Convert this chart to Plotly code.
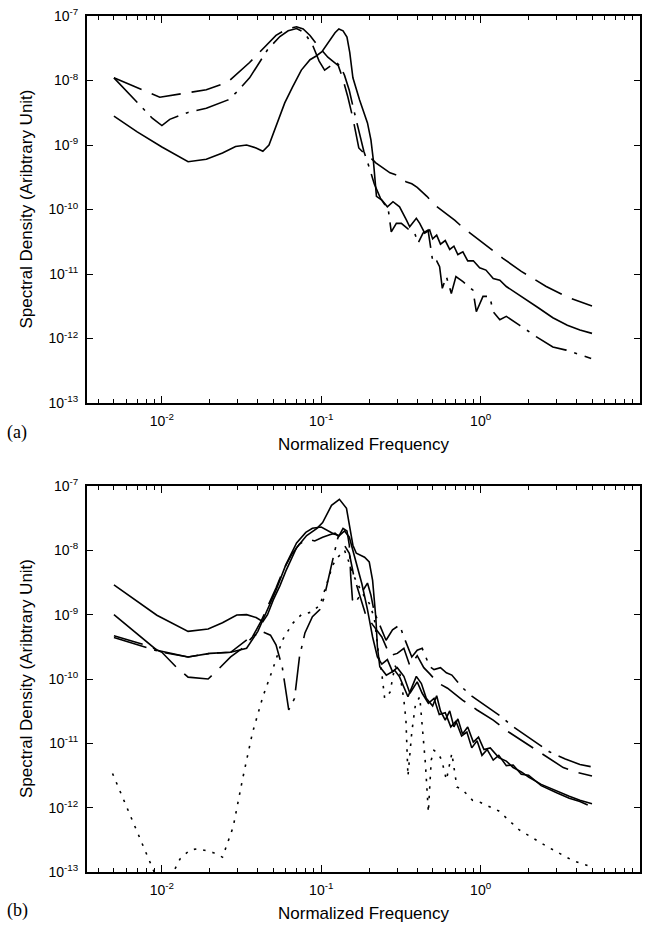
import plotly.graph_objects as go

# ---------------- data (normalized frequency, spectral density) ----------------
top_solid = [(0.005, 2.8e-9), (0.007, 1.6e-9), (0.01, 9.3e-10), (0.0146, 5.5e-10), (0.019, 6e-10),
             (0.024, 7.5e-10), (0.029, 9.5e-10), (0.034, 1.0e-9), (0.039, 9e-10), (0.043, 8e-10),
             (0.047, 1.0e-9), (0.053, 2.2e-9), (0.059, 4.5e-9), (0.066, 7.9e-9), (0.075, 1.45e-8),
             (0.085, 2.1e-8), (0.093, 2.4e-8), (0.101, 2.8e-8), (0.113, 4.2e-8), (0.122, 5.5e-8),
             (0.129, 6.3e-8), (0.137, 5.9e-8), (0.145, 4.7e-8), (0.151, 2.7e-8), (0.158, 1.1e-8),
             (0.174, 5e-9), (0.195, 2.2e-9), (0.205, 1.2e-9), (0.212, 6e-10), (0.217, 3e-10),
             (0.222, 1.6e-10), (0.24, 1.4e-10), (0.26, 1.1e-10), (0.282, 1.32e-10), (0.31, 1.1e-10),
             (0.342, 6.9e-11), (0.359, 5.4e-11), (0.395, 7.3e-11), (0.415, 6.1e-11), (0.446, 4.3e-11),
             (0.479, 4.8e-11), (0.5, 3.5e-11), (0.53, 4e-11), (0.56, 2.9e-11), (0.6, 3.3e-11),
             (0.64, 2.4e-11), (0.68, 2.7e-11), (0.72, 2e-11), (0.774, 2.2e-11), (0.83, 1.6e-11),
             (0.9, 1.6e-11), (0.986, 1.25e-11), (1.08, 1.15e-11), (1.2, 8.5e-12), (1.32, 8e-12),
             (1.45, 6.4e-12), (1.65, 5.2e-12), (1.93, 4e-12), (2.3, 3e-12), (2.84, 2.1e-12),
             (3.5, 1.6e-12), (4.2, 1.35e-12), (5.0, 1.2e-12)]

top_dashed = [(0.005, 1.1e-8), (0.0097, 5.5e-9), (0.019, 7.2e-9), (0.026, 9.5e-9), (0.0355, 1.9e-8),
              (0.0455, 3.6e-8), (0.052, 5e-8), (0.06, 6.2e-8), (0.07, 6.8e-8), (0.077, 6.3e-8),
              (0.085, 5e-8), (0.094, 3.6e-8), (0.105, 2.6e-8), (0.11, 2.3e-8), (0.118, 2.0e-8),
              (0.128, 1.7e-8), (0.136, 1.1e-8), (0.147, 5.5e-9), (0.158, 2.6e-9), (0.165, 1.5e-9),
              (0.172, 9e-10), (0.185, 7.5e-10), (0.2, 6.6e-10), (0.22, 5.3e-10), (0.24, 4.6e-10),
              (0.27, 3.7e-10), (0.29, 3.5e-10), (0.31, 3.2e-10), (0.34, 2.7e-10), (0.37, 2.5e-10),
              (0.4, 2.2e-10), (0.46, 1.6e-10), (0.51, 1.2e-10), (0.6, 9e-11), (0.69, 6.8e-11),
              (0.77, 5.3e-11), (0.89, 4e-11), (1.13, 2.6e-11), (1.38, 1.75e-11), (1.8, 1.1e-11),
              (2.58, 6.4e-12), (3.5, 4.4e-12), (4.6, 3.4e-12), (5.0, 3.2e-12)]

top_dashdot = [(0.005, 1.1e-8), (0.0087, 2.6e-9), (0.01, 2.0e-9), (0.0112, 2.5e-9), (0.0146, 3.2e-9),
               (0.019, 3.7e-9), (0.026, 5e-9), (0.0295, 6.6e-9), (0.0355, 1.1e-8), (0.046, 3e-8),
               (0.055, 4.8e-8), (0.062, 5.9e-8), (0.07, 6.4e-8), (0.078, 5.6e-8), (0.088, 3.6e-8),
               (0.097, 2e-8), (0.105, 1.45e-8), (0.115, 1.7e-8), (0.125, 1.9e-8), (0.133, 1.6e-8),
               (0.14, 1.2e-8), (0.15, 7e-9), (0.16, 3.5e-9), (0.172, 1.6e-9), (0.185, 8e-10),
               (0.2, 4.5e-10), (0.215, 2.5e-10), (0.235, 1.5e-10), (0.25, 1.2e-10), (0.262, 1.1e-10),
               (0.275, 4.5e-11), (0.296, 6.1e-11), (0.318, 6.1e-11), (0.35, 5e-11), (0.386, 4.3e-11),
               (0.405, 3e-11), (0.435, 4.3e-11), (0.468, 4.8e-11), (0.485, 2.6e-11), (0.502, 1.5e-11),
               (0.53, 1.6e-11), (0.553, 1.3e-11), (0.575, 6e-12), (0.61, 9.1e-12), (0.655, 5e-12),
               (0.7, 9.1e-12), (0.775, 7.6e-12), (0.84, 6.5e-12), (0.895, 5.6e-12), (0.94, 2.6e-12),
               (1.035, 4.5e-12), (1.14, 4.5e-12), (1.2, 2.6e-12), (1.32, 1.95e-12), (1.45, 2.2e-12),
               (1.76, 1.6e-12), (2.23, 1.07e-12), (2.84, 7.4e-13), (3.44, 6.6e-13), (4.94, 4.9e-13)]

bot_solid1 = [(0.005, 2.9e-9), (0.007, 1.6e-9), (0.0093, 9.8e-10), (0.0146, 5.5e-10), (0.0195, 6e-10),
              (0.024, 7.5e-10), (0.0295, 9.9e-10), (0.034, 1.0e-9), (0.039, 9e-10), (0.043, 7.8e-10),
              (0.046, 1.0e-9), (0.05, 1.7e-9), (0.055, 2.8e-9), (0.06, 4.8e-9), (0.07, 1.1e-8),
              (0.081, 1.7e-8), (0.094, 2.2e-8), (0.102, 2.7e-8), (0.116, 5e-8), (0.13, 6.2e-8),
              (0.144, 4.5e-8), (0.15, 2.5e-8), (0.158, 1.2e-8), (0.166, 9e-9), (0.187, 7.8e-9),
              (0.2, 6.6e-9), (0.21, 3.4e-9), (0.22, 9e-10), (0.225, 3.2e-10), (0.233, 1.55e-10),
              (0.256, 1.15e-10), (0.289, 1.37e-10), (0.31, 1.08e-10), (0.35, 5.3e-11), (0.395, 1.1e-10),
              (0.425, 8.5e-11), (0.456, 5e-11), (0.5, 3.8e-11), (0.53, 5.5e-11), (0.56, 3.2e-11),
              (0.6, 2.3e-11), (0.64, 3.2e-11), (0.68, 1.8e-11), (0.72, 2.4e-11), (0.77, 1.4e-11),
              (0.83, 1.8e-11), (0.9, 1.05e-11), (0.97, 1.25e-11), (1.05, 8e-12), (1.15, 8.5e-12),
              (1.3, 6e-12), (1.45, 5.3e-12), (1.6, 4.2e-12), (1.8, 3.6e-12), (2.0, 3.0e-12),
              (2.4, 2.3e-12), (3.0, 1.8e-12), (3.6, 1.5e-12), (4.2, 1.3e-12), (5.0, 1.15e-12)]

bot_solid2 = [(0.005, 1.0e-9), (0.0093, 2.8e-10), (0.0146, 2.2e-10), (0.02, 2.5e-10), (0.027, 2.6e-10),
              (0.034, 3e-10), (0.04, 5.5e-10), (0.045, 1.05e-9), (0.052, 2.4e-9), (0.06, 6e-9),
              (0.07, 1.3e-8), (0.08, 1.9e-8), (0.088, 2.2e-8), (0.1, 2.3e-8), (0.11, 2.0e-8),
              (0.12, 1.8e-8), (0.13, 1.7e-8), (0.14, 2.0e-8), (0.15, 1.6e-8), (0.165, 7e-9),
              (0.18, 3e-9), (0.195, 1.2e-9), (0.21, 4.5e-10), (0.225, 2.2e-10), (0.24, 1.7e-10),
              (0.26, 2e-10), (0.28, 1.3e-10), (0.3, 1.5e-10), (0.33, 1.1e-10), (0.36, 6e-11),
              (0.4, 9e-11), (0.43, 6e-11), (0.47, 4.2e-11), (0.51, 5e-11), (0.55, 2.8e-11),
              (0.6, 3e-11), (0.65, 1.8e-11), (0.7, 2.2e-11), (0.76, 1.3e-11), (0.82, 1.5e-11),
              (0.88, 8.5e-12), (0.95, 1.1e-11), (1.02, 6.5e-12), (1.1, 8e-12), (1.2, 5.5e-12),
              (1.3, 6.5e-12), (1.45, 4.5e-12), (1.6, 4.6e-12), (1.8, 3.3e-12), (2.0, 3.2e-12),
              (2.4, 2.2e-12), (3.0, 1.7e-12), (3.6, 1.4e-12), (4.2, 1.25e-12), (4.7, 1.1e-12)]

bot_dashed = [(0.005, 4.7e-10), (0.0084, 3.2e-10), (0.01, 2.6e-10), (0.0124, 1.5e-10), (0.0146, 1.07e-10),
              (0.0195, 1.0e-10), (0.0225, 1.4e-10), (0.027, 2.2e-10), (0.032, 3e-10), (0.037, 4.5e-10),
              (0.042, 8e-10), (0.046, 1.3e-9), (0.052, 2.6e-9), (0.058, 5e-9), (0.065, 8.5e-9),
              (0.073, 1.25e-8), (0.082, 1.5e-8), (0.091, 1.4e-8), (0.102, 1.6e-8), (0.113, 1.75e-8),
              (0.122, 1.85e-8), (0.13, 1.6e-8), (0.137, 1.3e-8), (0.15, 9e-9), (0.16, 4e-9),
              (0.175, 2e-9), (0.19, 1.0e-9), (0.21, 7e-10), (0.24, 4.5e-10), (0.27, 2.3e-10),
              (0.3, 2.5e-10), (0.33, 3e-10), (0.36, 1.6e-10), (0.4, 2.3e-10), (0.44, 1.5e-10),
              (0.48, 1.2e-10), (0.54, 8.7e-11), (0.62, 7.2e-11), (0.77, 4.7e-11), (0.95, 3.3e-11),
              (1.2, 2.3e-11), (1.5, 1.5e-11), (2.0, 9.5e-12), (2.6, 6.2e-12), (3.3, 4.2e-12),
              (4.1, 3.5e-12), (5.0, 3.1e-12)]

bot_dashdot = [(0.005, 4.4e-10), (0.0084, 3e-10), (0.01, 2.6e-10), (0.0146, 2.2e-10), (0.02, 2.5e-10),
               (0.027, 2.6e-10), (0.03, 3.2e-10), (0.036, 4.5e-10), (0.043, 5.4e-10), (0.048, 4.8e-10),
               (0.052, 3.4e-10), (0.057, 1.5e-10), (0.0625, 3.3e-11), (0.068, 5e-11), (0.073, 2.2e-10),
               (0.079, 5.2e-10), (0.088, 9.3e-10), (0.098, 1.2e-9), (0.104, 1.8e-9), (0.11, 3.5e-9),
               (0.117, 6.5e-9), (0.127, 1.55e-8), (0.137, 2.2e-8), (0.145, 2.0e-8), (0.15, 1.2e-8),
               (0.153, 4e-9), (0.157, 1.7e-9), (0.163, 1.5e-9), (0.178, 2.1e-9), (0.195, 3.1e-9),
               (0.205, 2e-9), (0.215, 1.1e-9), (0.23, 7.4e-10), (0.255, 4e-10), (0.28, 5.8e-10),
               (0.31, 6.9e-10), (0.33, 4.5e-10), (0.37, 2.2e-10), (0.4, 2.8e-10), (0.43, 3e-10),
               (0.48, 1.55e-10), (0.51, 1.4e-10), (0.56, 1.5e-10), (0.61, 1.25e-10), (0.66, 1.15e-10),
               (0.77, 7.3e-11), (0.89, 5.3e-11), (1.1, 3.7e-11), (1.35, 2.6e-11), (1.56, 1.9e-11),
               (2.0, 1.25e-11), (2.36, 9.5e-12), (2.7, 7.4e-12), (3.4, 5.7e-12), (4.2, 4.7e-12),
               (5.0, 4.3e-12)]

bot_dotted = [(0.0049, 3.4e-12), (0.006, 1.05e-12), (0.0073, 3.2e-13), (0.0084, 1.4e-13), (0.0095, 7e-14),
              (0.011, 7e-14), (0.013, 1.6e-13), (0.015, 2.2e-13), (0.017, 2.3e-13), (0.021, 2e-13),
              (0.024, 1.7e-13), (0.028, 5e-13), (0.032, 2.7e-12), (0.037, 1.45e-11), (0.043, 5.3e-11),
              (0.05, 1.5e-10), (0.057, 4e-10), (0.066, 7.3e-10), (0.075, 1.0e-9), (0.087, 1.1e-9),
              (0.098, 1.4e-9), (0.11, 3.4e-9), (0.118, 5.9e-9), (0.127, 7.8e-9), (0.14, 1.0e-8),
              (0.146, 7.6e-9), (0.16, 4e-9), (0.18, 2.2e-9), (0.2, 1.5e-9), (0.215, 9e-10),
              (0.23, 2.2e-10), (0.24, 1.2e-10), (0.25, 5e-11), (0.27, 6.2e-11), (0.29, 1.6e-10),
              (0.31, 1.3e-10), (0.33, 4.7e-11), (0.34, 2.3e-11), (0.35, 3.1e-12), (0.37, 1.5e-11),
              (0.39, 4e-11), (0.415, 5.3e-11), (0.43, 2.1e-11), (0.45, 5e-12), (0.47, 8.5e-13),
              (0.49, 5.5e-12), (0.51, 7.8e-12), (0.54, 7e-12), (0.57, 5.5e-12), (0.61, 2.7e-12),
              (0.66, 7e-12), (0.71, 2.1e-12), (0.77, 1.9e-12), (0.89, 1.3e-12), (1.0, 1.2e-12),
              (1.3, 8.9e-13), (1.75, 4.5e-13), (2.6, 2.5e-13), (3.8, 1.5e-13), (5.0, 1.2e-13)]

x_major = [0.01, 0.1, 1, 10]
x_labels = ["10<sup>-2</sup>", "10<sup>-1</sup>", "10<sup>0</sup>", "10<sup>1</sup>"]
x_minor = [0.004, 0.005, 0.006, 0.007, 0.008, 0.009,
           0.02, 0.03, 0.04, 0.05, 0.06, 0.07, 0.08, 0.09,
           0.2, 0.3, 0.4, 0.5, 0.6, 0.7, 0.8, 0.9,
           2, 3, 4, 5, 6, 7, 8, 9]
y_major = [1e-13, 1e-12, 1e-11, 1e-10, 1e-9, 1e-8, 1e-7]
y_labels = ["10<sup>-13</sup>", "10<sup>-12</sup>", "10<sup>-11</sup>", "10<sup>-10</sup>",
            "10<sup>-9</sup>", "10<sup>-8</sup>", "10<sup>-7</sup>"]

# ---------------- figure ----------------
W, H = 650, 928
SANS = "Liberation Sans, Arial, Helvetica, sans-serif"
SERIF = "Liberation Serif, Times New Roman, serif"

DASH = "30px,11px"
DASHDOT = "34px,8px,3px,8px"
DOT = "2.5px,7px"

fig = go.Figure()


def add(curve, xa, ya, dash):
    fig.add_trace(go.Scatter(
        x=[p[0] for p in curve], y=[p[1] for p in curve], mode="lines",
        line=dict(color="black", width=1.6, dash=dash),
        xaxis=xa, yaxis=ya, showlegend=False, hoverinfo="skip"))


add(top_dashed, "x", "y", DASH)
add(top_dashdot, "x", "y", DASHDOT)
add(top_solid, "x", "y", "solid")

add(bot_dotted, "x2", "y2", DOT)
add(bot_dashed, "x2", "y2", DASH)
add(bot_dashdot, "x2", "y2", DASHDOT)
add(bot_solid2, "x2", "y2", "solid")
add(bot_solid1, "x2", "y2", "solid")

xdom = [87 / W, 640 / W]
ydom_top = [1 - 403 / H, 1 - 16 / H]
ydom_bot = [1 - 872 / H, 1 - 486 / H]

tickfont = dict(family=SANS, size=14, color="black")


def xaxis(anchor):
    return dict(type="log", range=[-2.47, 1.0002], domain=xdom, anchor=anchor,
                showline=True, linecolor="black", linewidth=2, mirror="allticks",
                ticks="inside", ticklen=7, tickwidth=1.3, tickcolor="black",
                tickmode="array", tickvals=x_major, ticktext=x_labels, tickfont=tickfont,
                showgrid=False, zeroline=False, automargin=False, ticklabelstandoff=4,
                minor=dict(tickmode="array", tickvals=x_minor, ticks="inside", ticklen=4,
                           tickwidth=1.1, tickcolor="black", showgrid=False))


def yaxis(anchor, dom):
    return dict(type="log", range=[-13, -7], domain=dom, anchor=anchor,
                showline=True, linecolor="black", linewidth=2, mirror="allticks",
                ticks="inside", ticklen=6, tickwidth=1.3, tickcolor="black",
                tickmode="array", tickvals=y_major, ticktext=y_labels, tickfont=tickfont,
                showgrid=False, zeroline=False, automargin=False, ticklabelstandoff=4)


fig.update_layout(
    width=W, height=H, margin=dict(l=0, r=0, t=0, b=0),
    paper_bgcolor="white", plot_bgcolor="white",
    xaxis=xaxis("y"), yaxis=yaxis("x", ydom_top),
    xaxis2=xaxis("y2"), yaxis2=yaxis("x2", ydom_bot),
)


def ann(text, x, y, size, family=SANS, angle=0):
    fig.add_annotation(text=text, x=x / W, y=1 - y / H, xref="paper", yref="paper",
                       showarrow=False, textangle=angle, xanchor="center", yanchor="middle",
                       font=dict(family=family, size=size, color="black"))


ann("Normalized Frequency", 363.5, 444, 17)
ann("Normalized Frequency", 363.5, 913, 17)
ann("Spectral Density (Aribtrary Unit)", 26, 209.5, 17, angle=-90)
ann("Spectral Density (Aribtrary Unit)", 26, 679, 17, angle=-90)
ann("(a)", 17, 433, 18, family=SERIF)
ann("(b)", 17, 910, 18, family=SERIF)

fig.write_html("out.html")
